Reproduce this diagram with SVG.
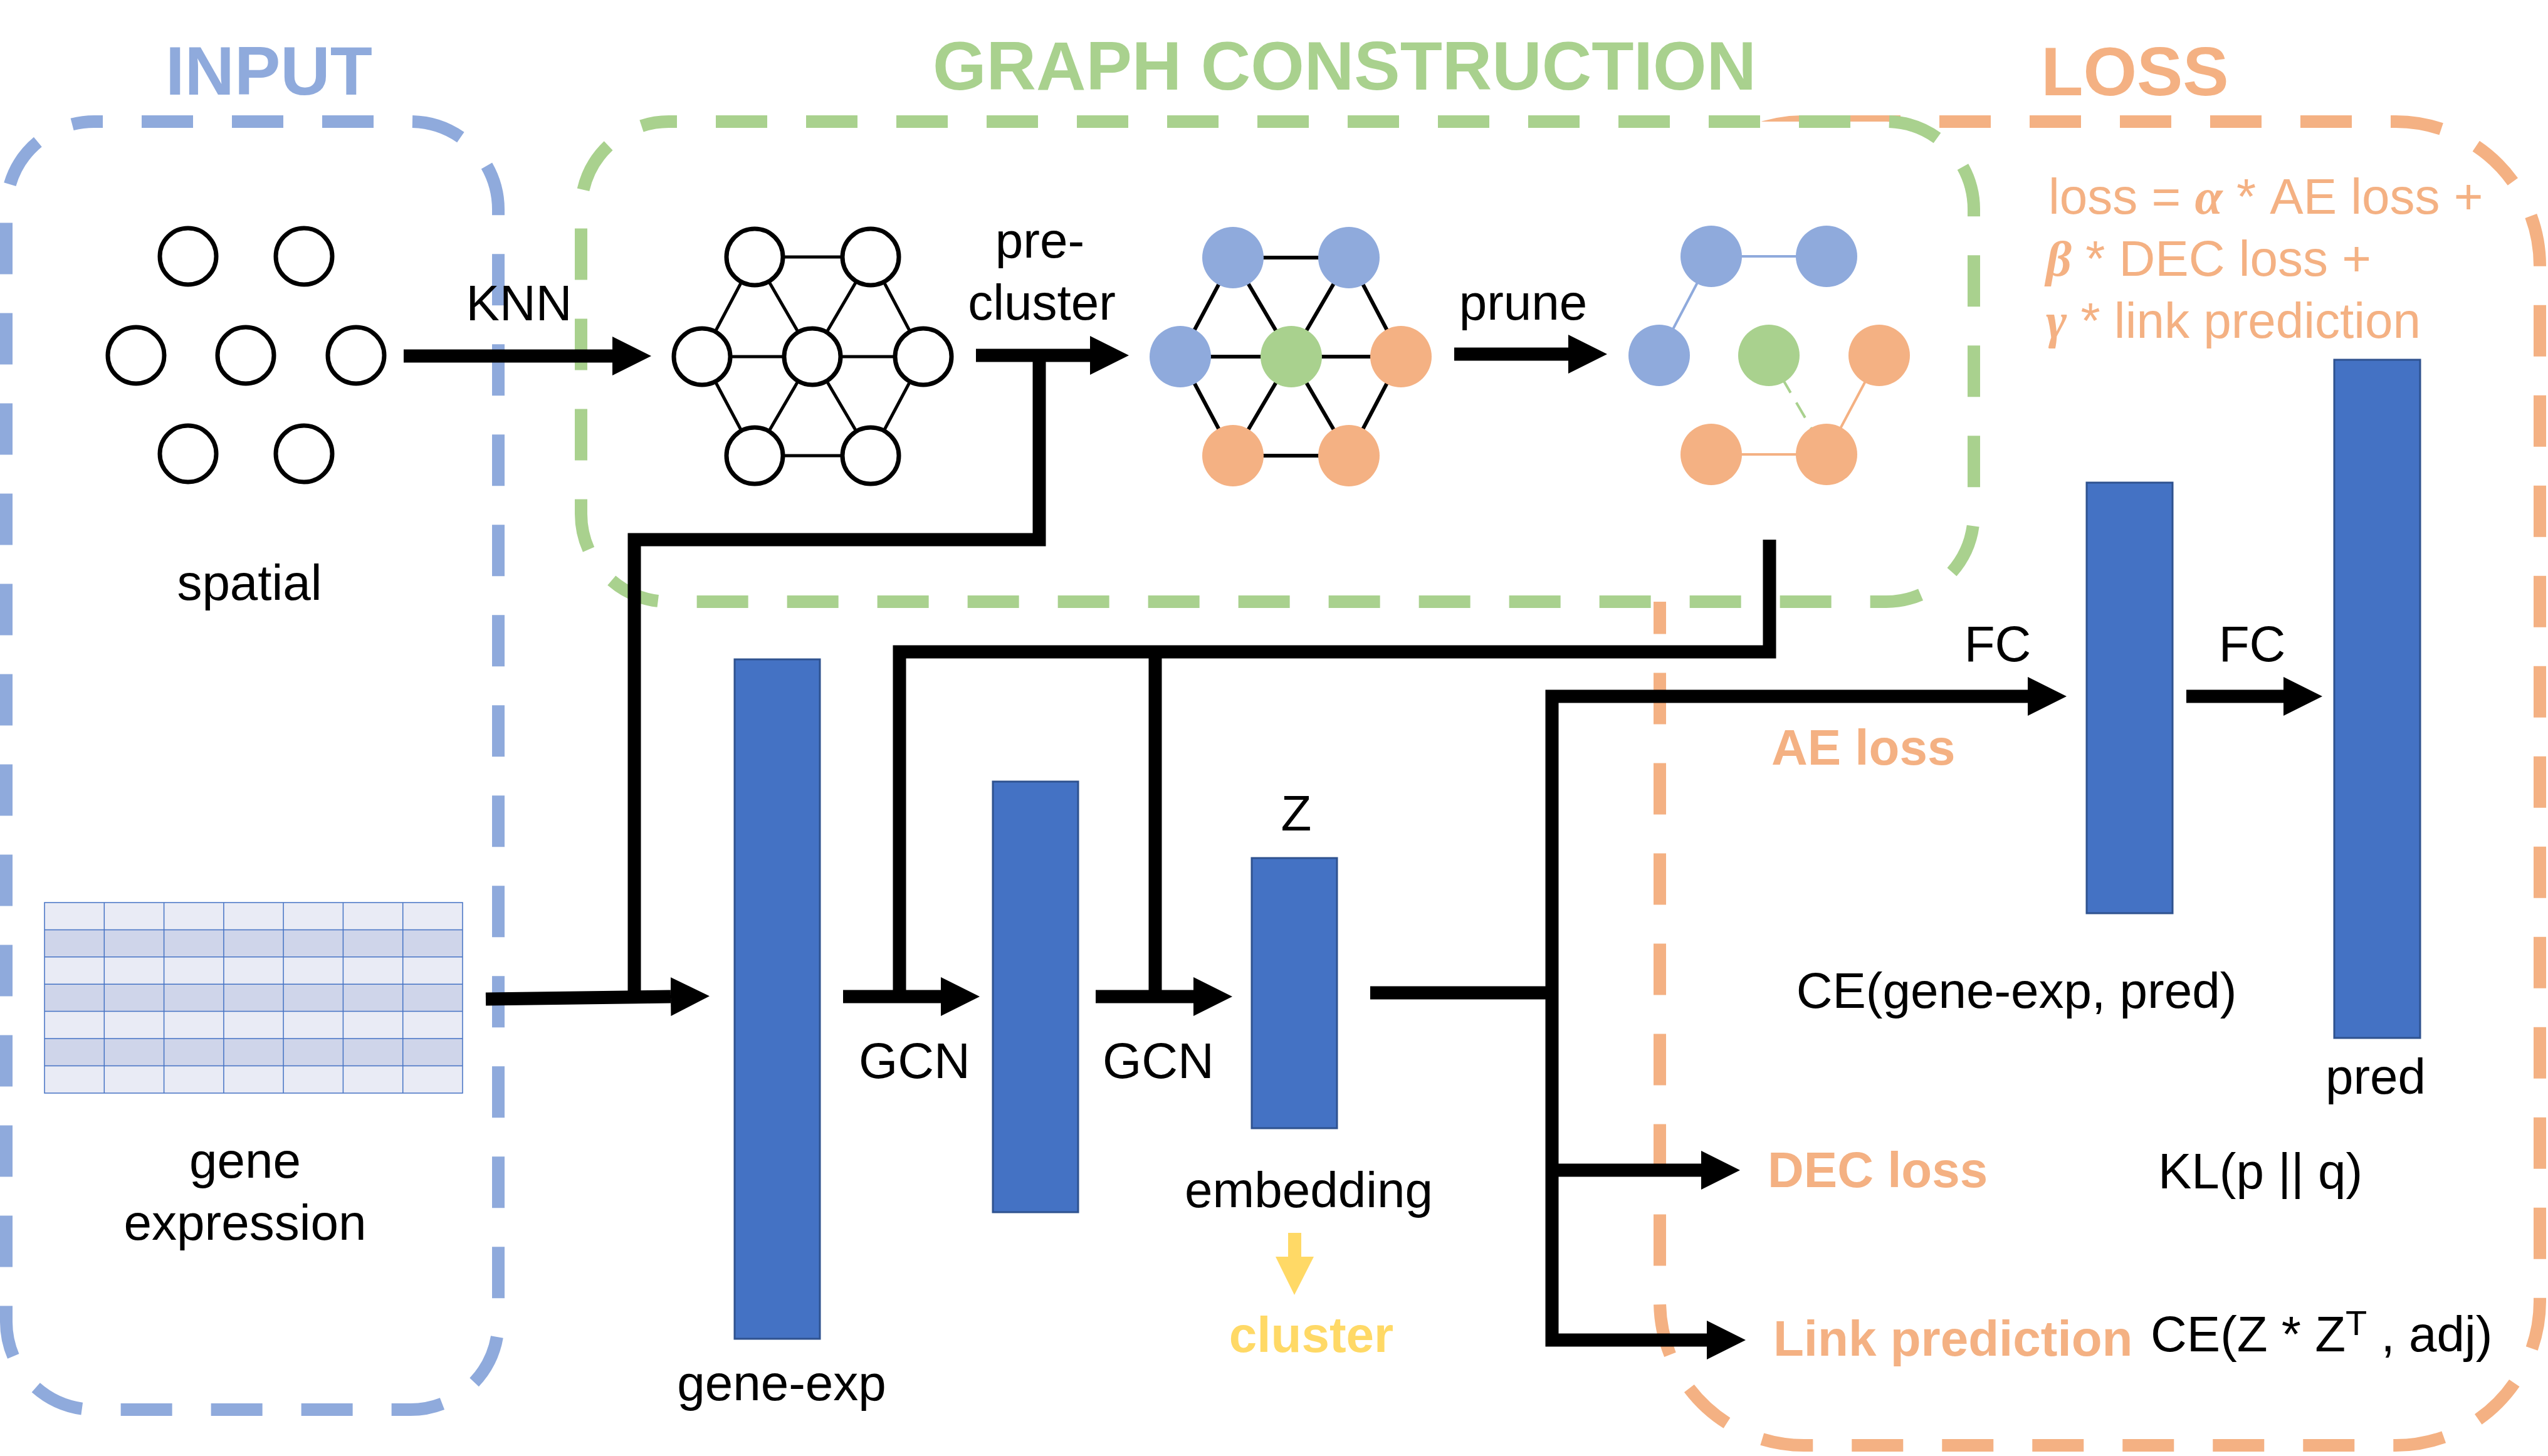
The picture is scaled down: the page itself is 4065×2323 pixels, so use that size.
<svg xmlns="http://www.w3.org/2000/svg" width="4065" height="2323" viewBox="0 0 4065 2323">
<style>
.t{font-family:"Liberation Sans",Arial,sans-serif;font-size:80px;fill:#000}
.h{font-weight:bold;font-size:110px}
.b{font-weight:bold}
.or{fill:#F4B183}
.gk{font-family:"Liberation Serif","Times New Roman",serif;font-weight:bold;font-style:italic}
.box{fill:none;stroke-width:20;stroke-dasharray:82 62}
.conn{fill:none;stroke:#000;stroke-width:21;stroke-linejoin:miter}
.bar{fill:#4472C4;stroke:#2F528F;stroke-width:3}
.wn{fill:#fff;stroke:#000;stroke-width:7}
.e1{stroke:#000;stroke-width:5}
.e2{stroke:#000;stroke-width:6}
.cb{fill:#8FAADC}.cg{fill:#A9D18E}.co{fill:#F4B183}
.row1{fill:#E9EBF5}.row2{fill:#CFD5EA}
.grid{stroke:#4472C4;stroke-width:1.5;fill:none}
</style>
<defs>
<marker id="ah" markerUnits="userSpaceOnUse" markerWidth="62" markerHeight="62" refX="0" refY="31" orient="auto-start-reverse" viewBox="0 0 62 62"><path d="M0,0 L62,31 L0,62 z" fill="#000"/></marker>
</defs>
<rect width="4065" height="2323" fill="#fff"/>

<!-- Region boxes -->
<g id="loss-box"><rect class="box" x="2648" y="194" width="1404" height="2112" rx="230" stroke="#F4B183" stroke-dashoffset="72"/></g>
<g id="graph-box"><rect class="box" x="927" y="194" width="2222" height="766" rx="140" stroke="#A9D18E" stroke-dashoffset="69" style="fill:#fff"/></g>
<g id="input-box"><rect class="box" x="10" y="194" width="785" height="2055" rx="140" stroke="#8FAADC" stroke-dashoffset="68"/></g>

<!-- Headers -->
<text class="t h" x="429" y="151" text-anchor="middle" style="fill:#8FAADC">INPUT</text>
<text class="t h" x="2145" y="143" text-anchor="middle" style="fill:#A9D18E">GRAPH CONSTRUCTION</text>
<text class="t h" x="3406" y="152" text-anchor="middle" style="fill:#F4B183">LOSS</text>

<!-- Spatial points -->
<g id="spatial">
<circle class="wn" cx="300" cy="409" r="45"/><circle class="wn" cx="485" cy="409" r="45"/>
<circle class="wn" cx="217" cy="567" r="45"/><circle class="wn" cx="392" cy="567" r="45"/><circle class="wn" cx="568" cy="567" r="45"/>
<circle class="wn" cx="300" cy="724" r="45"/><circle class="wn" cx="485" cy="724" r="45"/>
<text class="t" x="398" y="957" text-anchor="middle">spatial</text>
</g>

<!-- Gene expression table -->
<g id="gene-expression">
<rect class="row1" x="71" y="1440" width="667" height="43.4"/>
<rect class="row2" x="71" y="1483.4" width="667" height="43.4"/>
<rect class="row1" x="71" y="1526.8" width="667" height="43.4"/>
<rect class="row2" x="71" y="1570.2" width="667" height="43.4"/>
<rect class="row1" x="71" y="1613.6" width="667" height="43.4"/>
<rect class="row2" x="71" y="1657" width="667" height="43.4"/>
<rect class="row1" x="71" y="1700.4" width="667" height="43.6"/>
<path class="grid" d="M71,1440H738V1744H71Z M71,1483.4H738 M71,1526.8H738 M71,1570.2H738 M71,1613.6H738 M71,1657H738 M71,1700.4H738 M166.3,1440V1744 M261.6,1440V1744 M356.9,1440V1744 M452.1,1440V1744 M547.4,1440V1744 M642.7,1440V1744"/>
<text class="t" x="391" y="1879" text-anchor="middle">gene</text>
<text class="t" x="391" y="1978" text-anchor="middle">expression</text>
</g>

<!-- KNN graph -->
<g id="knn-graph">
<path class="e1" d="M1204,410L1389,410L1473,569L1389,727L1204,727L1120,569Z M1296,569L1204,410 M1296,569L1389,410 M1296,569L1120,569 M1296,569L1473,569 M1296,569L1204,727 M1296,569L1389,727" fill="none"/>
<circle class="wn" cx="1204" cy="410" r="45"/><circle class="wn" cx="1389" cy="410" r="45"/>
<circle class="wn" cx="1120" cy="569" r="45"/><circle class="wn" cx="1296" cy="569" r="45"/><circle class="wn" cx="1473" cy="569" r="45"/>
<circle class="wn" cx="1204" cy="727" r="45"/><circle class="wn" cx="1389" cy="727" r="45"/>
</g>

<!-- Pre-clustered graph -->
<g id="precluster-graph">
<path class="e2" d="M1967,411L2152,411L2235,569L2152,727L1967,727L1883,569Z M2060,569L1967,411 M2060,569L2152,411 M2060,569L1883,569 M2060,569L2235,569 M2060,569L1967,727 M2060,569L2152,727" fill="none"/>
<circle class="cb" cx="1967" cy="411" r="49"/><circle class="cb" cx="2152" cy="411" r="49"/>
<circle class="cb" cx="1883" cy="569" r="49"/><circle class="cg" cx="2060" cy="569" r="49"/><circle class="co" cx="2235" cy="569" r="49"/>
<circle class="co" cx="1967" cy="727" r="49"/><circle class="co" cx="2152" cy="727" r="49"/>
</g>

<!-- Pruned graph -->
<g id="pruned-graph">
<path d="M2730,409L2914,409 M2730,409L2647,567" stroke="#8FAADC" stroke-width="4" fill="none"/>
<path d="M2998,567L2914,725 M2730,725L2914,725" stroke="#F4B183" stroke-width="4" fill="none"/>
<path d="M2822,567L2914,725" stroke="#A9D18E" stroke-width="4" stroke-dasharray="28 18" stroke-dashoffset="5" fill="none"/>
<circle class="cb" cx="2730" cy="409" r="49"/><circle class="cb" cx="2914" cy="409" r="49"/>
<circle class="cb" cx="2647" cy="567" r="49"/><circle class="cg" cx="2822" cy="567" r="49"/><circle class="co" cx="2998" cy="567" r="49"/>
<circle class="co" cx="2730" cy="725" r="49"/><circle class="co" cx="2914" cy="725" r="49"/>
</g>

<!-- Layer bars -->
<g id="bar-gene-exp"><rect class="bar" x="1172" y="1052" width="136" height="1084"/>
<text class="t" x="1247" y="2234" text-anchor="middle">gene-exp</text></g>
<g id="bar-gcn1"><rect class="bar" x="1584" y="1247" width="136" height="687"/></g>
<g id="bar-z"><rect class="bar" x="1997" y="1369" width="136" height="431"/>
<text class="t" x="2068" y="1325" text-anchor="middle">Z</text>
<text class="t" x="2088" y="1926" text-anchor="middle">embedding</text></g>
<g id="cluster">
<polygon points="2055,1967 2076,1967 2076,2005 2096,2005 2065,2066 2035,2005 2055,2005" fill="#FFD966"/>
<text class="t b" x="2092" y="2157" text-anchor="middle" style="fill:#FFD966">cluster</text>
</g>
<g id="bar-fc1"><rect class="bar" x="3329" y="770" width="137" height="687"/></g>
<g id="bar-pred"><rect class="bar" x="3724" y="574" width="137" height="1082"/>
<text class="t" x="3790" y="1745" text-anchor="middle">pred</text></g>

<!-- Loss formula -->
<g id="loss-formula">
<text class="t or" x="3268" y="341">loss = <tspan class="gk">α</tspan> * AE loss +</text>
<text class="t or" x="3264" y="440"><tspan class="gk">β</tspan> * DEC loss +</text>
<text class="t or" x="3264" y="539"><tspan class="gk">γ</tspan> * link prediction</text>
</g>

<!-- Loss terms -->
<g id="ae-loss"><text class="t b or" x="2826" y="1220">AE loss</text>
<text class="t" x="3217" y="1608" text-anchor="middle">CE(gene-exp, pred)</text></g>
<g id="dec-loss"><text class="t b or" x="2820" y="1894">DEC loss</text>
<text class="t" x="3443" y="1896">KL(p || q)</text></g>
<g id="link-loss"><text class="t b or" x="2829" y="2163">Link prediction</text>
<text class="t" x="3431" y="2156">CE(Z * Z<tspan font-size="56" dy="-26">T</tspan><tspan dy="26"> , adj)</tspan></text></g>

<!-- Connectors -->
<g id="connectors">
<path class="conn" d="M644,568H977" marker-end="url(#ah)"/>
<path class="conn" d="M1557,567H1739" marker-end="url(#ah)"/>
<path class="conn" d="M2320,565H2502" marker-end="url(#ah)"/>
<path class="conn" d="M1658,567V861H1012V1590"/>
<path class="conn" d="M775,1594L1070,1590" marker-end="url(#ah)"/>
<path class="conn" d="M2823,861V1040H1435V1590"/>
<path class="conn" d="M1843,1040V1590"/>
<path class="conn" d="M1345,1590H1501" marker-end="url(#ah)"/>
<path class="conn" d="M1748,1590H1904" marker-end="url(#ah)"/>
<path class="conn" d="M2186,1584H2476"/>
<path class="conn" d="M2723,2138H2476V1111H3235" marker-start="url(#ah)" marker-end="url(#ah)"/>
<path class="conn" d="M2476,1867H2714" marker-end="url(#ah)"/>
<path class="conn" d="M3488,1111H3643" marker-end="url(#ah)"/>
</g>
<g id="connector-labels">
<text class="t" x="828" y="511" text-anchor="middle">KNN</text>
<text class="t" x="1659" y="411" text-anchor="middle">pre-</text>
<text class="t" x="1662" y="510" text-anchor="middle">cluster</text>
<text class="t" x="2430" y="510" text-anchor="middle">prune</text>
<text class="t" x="1459" y="1720" text-anchor="middle">GCN</text>
<text class="t" x="1848" y="1720" text-anchor="middle">GCN</text>
<text class="t" x="3187" y="1055" text-anchor="middle">FC</text>
<text class="t" x="3593" y="1055" text-anchor="middle">FC</text>
</g>
</svg>
